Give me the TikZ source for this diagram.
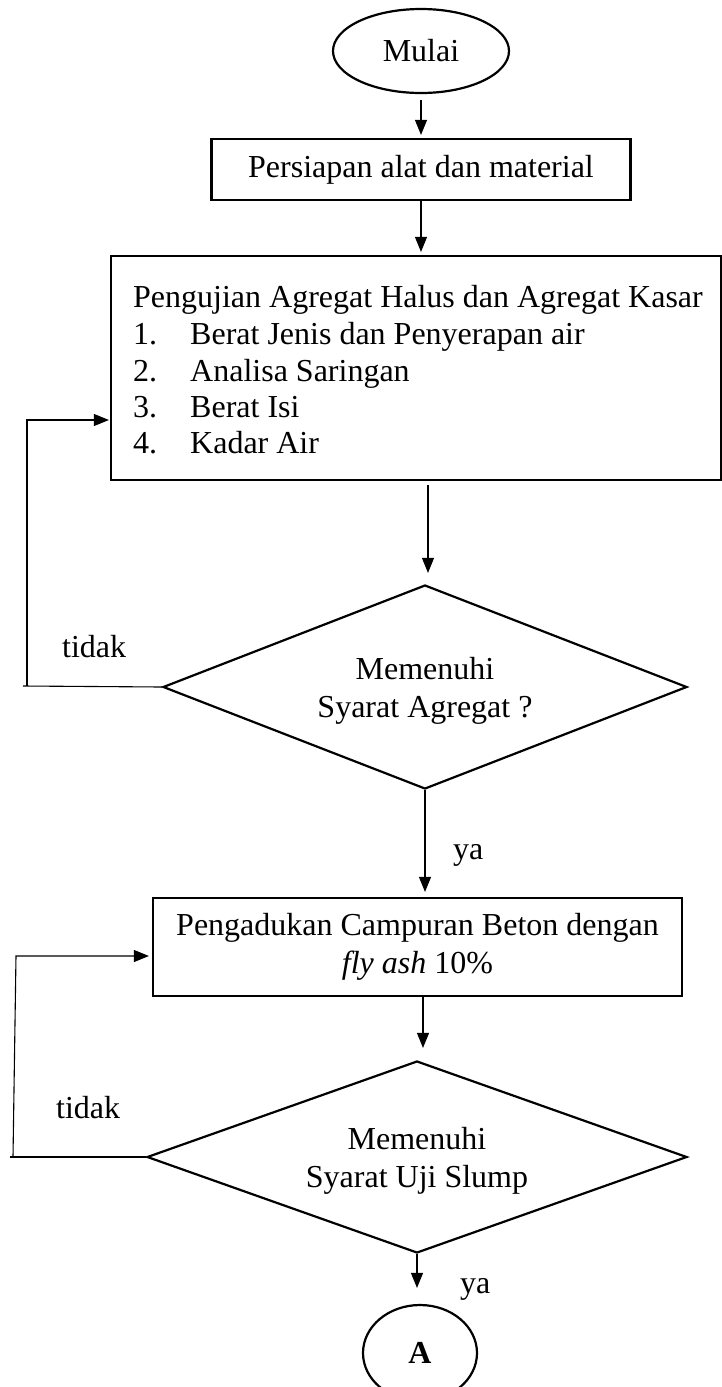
\documentclass[tikz,border=0pt]{standalone}
\usepackage{fontspec}
\setmainfont{Liberation Serif}
\usetikzlibrary{shapes.geometric,arrows.meta}
\begin{document}
\begin{tikzpicture}[x=1pt,y=-1pt,
  every node/.style={font=\fontsize{32}{37.5}\selectfont, inner sep=0pt},
  boxnode/.style={draw, line width=2.2pt, rectangle},
  decision/.style={draw, line width=2.2pt, diamond, align=center},
  term/.style={draw, line width=2.2pt, ellipse},
  arr/.style={line width=1.1pt, -{Triangle[length=15pt,width=12pt]}},
  conn/.style={line width=1.1pt},
  txt/.style={anchor=base west}]
\useasboundingbox (0,0) rectangle (721,1387);

% nodes
\node[term, minimum width=176pt, minimum height=84pt] (start) at (421,51) {Mulai};
\node[boxnode, minimum width=419pt, minimum height=61pt] (prep) at (421,169.5) {Persiapan alat dan material};
\node[boxnode, minimum width=610pt, minimum height=224pt] (test) at (416,368) {};
\node[txt] (t0) at (133,307) {Pengujian Agregat Halus dan Agregat Kasar};
\node[txt] (n1) at (133,344) {1.};
\node[txt] (t1) at (190,344) {Berat Jenis dan Penyerapan air};
\node[txt] (n2) at (133,381) {2.};
\node[txt] (t2) at (190,381) {Analisa Saringan};
\node[txt] (n3) at (133,417) {3.};
\node[txt] (t3) at (190,417) {Berat Isi};
\node[txt] (n4) at (133,453) {4.};
\node[txt] (t4) at (190,453) {Kadar Air};

\node[decision, aspect=2.6, minimum width=524pt, minimum height=204pt] (dec1) at (425,687) {};
\node (dec1t) at (425,691) [align=center] {Memenuhi\\Syarat Agregat ?};
\node[boxnode, minimum width=529pt, minimum height=98pt, align=center] (mix) at (417.5,947) {Pengadukan Campuran Beton dengan\\\textit{fly ash} 10\%};
\node[decision, aspect=2.8, minimum width=540pt, minimum height=192pt] (dec2) at (417,1157) {};
\node (dec2t) at (417,1161) [align=center] {Memenuhi\\Syarat Uji Slump};
\node[term, minimum width=114pt, minimum height=96pt, font=\fontsize{32}{37.5}\selectfont\bfseries] (endA) at (420,1353) {A};

% labels
\node[txt] (no1) at (62,657) {tidak};
\node[txt] (yes1) at (453,859) {ya};
\node[txt] (no2) at (56,1118) {tidak};
\node[txt] (yes2) at (460,1293) {ya};

% connectors
\draw[arr, shorten <=6pt, shorten >=3pt] (start.south) -- (prep.north);
\draw[arr, shorten >=3pt] (prep.south) -- (prep.south |- test.north);
\draw[arr, shorten <=4pt, shorten >=11pt] ([xshift=3pt]test.south -| dec1.north) -- ([xshift=3pt]dec1.north);
\coordinate (fb1) at (23,686);
\coordinate (fb1a) at (27,686);
\coordinate (fb1b) at (27,420);
\draw[conn] (dec1.west) -- (fb1);
\draw[arr, shorten >=1pt] (fb1a) -- (fb1b) -- (fb1b -| test.west);
\draw[arr, shorten >=5pt] (dec1.south) -- (dec1.south |- mix.north);
\draw[arr, shorten >=12pt] ([xshift=5.5pt]mix.south) -- ([xshift=5.5pt]mix.south |- dec2.north);
\coordinate (fb2) at (10,1157);
\coordinate (fb2a) at (13,1157);
\coordinate (fb2b) at (16,956);
\draw[conn] (dec2.west) -- (fb2);
\draw[arr, shorten >=3pt] (fb2a) -- (fb2b) -- (fb2b -| mix.west);
\draw[arr, shorten >=16pt] (dec2.south) -- (dec2.south |- endA.north);
\end{tikzpicture}
\end{document}
